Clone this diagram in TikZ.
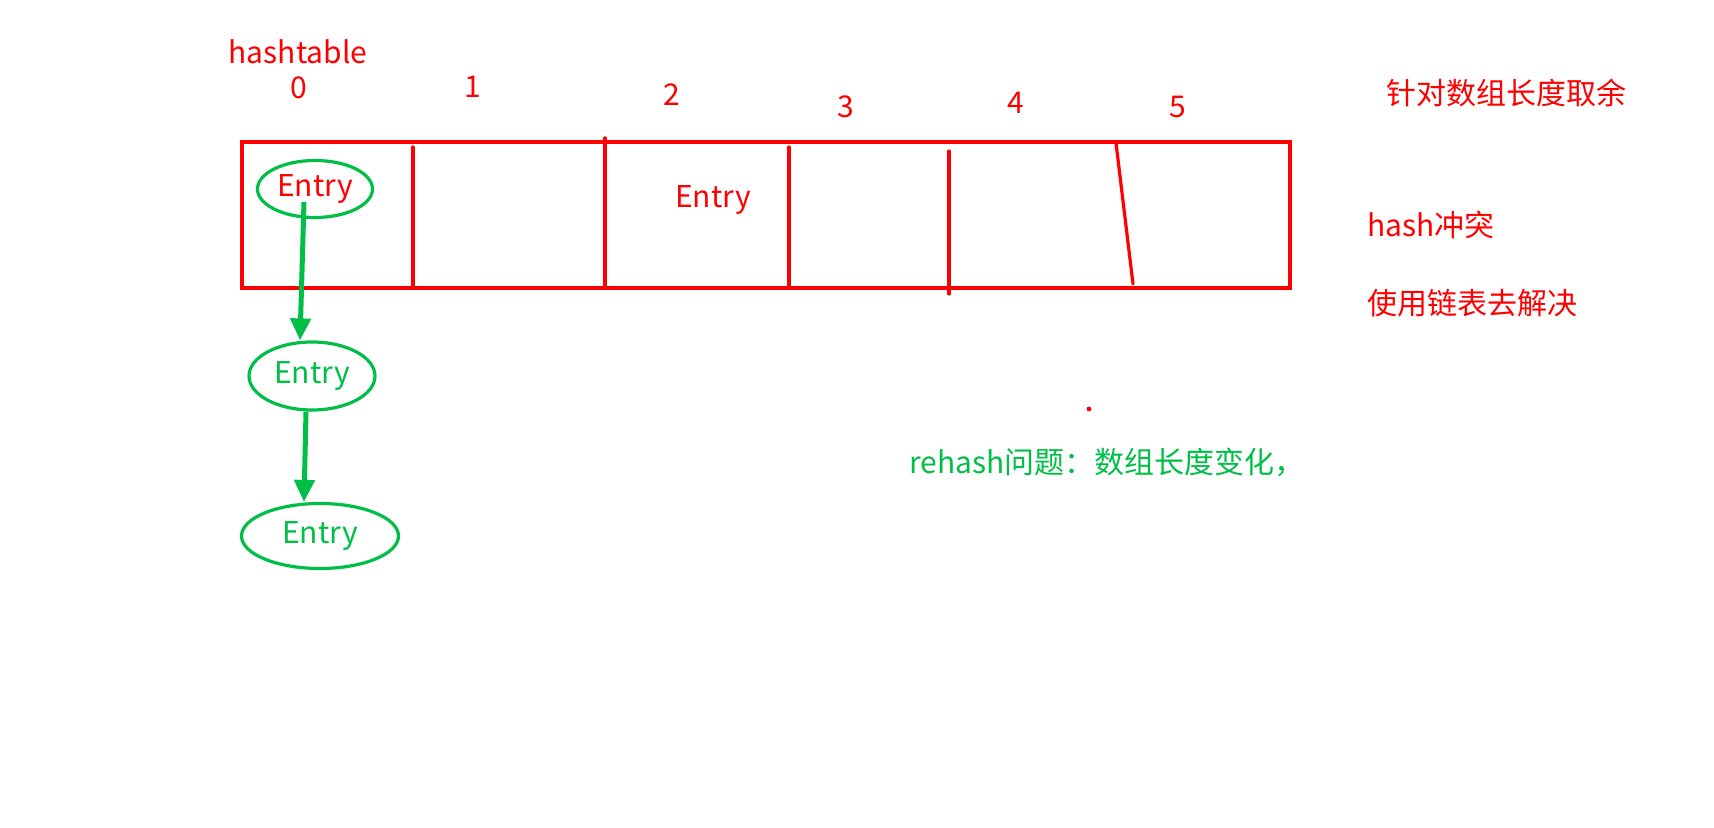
\documentclass[tikz,border=0pt]{standalone}
\usepackage{fontspec}
\setmainfont{Noto Sans CJK SC}
\usetikzlibrary{arrows.meta, shapes.geometric}
\definecolor{entrygreen}{RGB}{0,190,70}

\begin{document}
\begin{tikzpicture}[
    x=0.5pt, y=-0.5pt,
    txt/.style={text=red, font=\fontsize{15pt}{17pt}\selectfont},
    remark/.style={txt, anchor=west, inner sep=0pt},
    bucket/.style={draw=red, line width=2pt, minimum width=524.25pt, minimum height=73.25pt, inner sep=0pt},
    divider/.style={red, line width=1.6pt, line cap=round},
    entry/.style={ellipse, draw=entrygreen, line width=1.6pt, inner sep=0pt, text=entrygreen, font=\fontsize{15pt}{17pt}\selectfont},
    link/.style={-{Triangle[length=11pt, width=10pt]}, entrygreen, line width=2.5pt}
]
    \useasboundingbox (0,0) rectangle (1714,828);

    % Table
    \node[txt] (title) at (298,52) {hashtable};
    \node[bucket] (table) at (765.75,215.25) {};

    % Slot dividers
    \draw[divider] (413,147) -- (413,288);
    \draw[divider] (605,138) -- (605,288);
    \draw[divider] (789,147) -- (789,288);
    \draw[divider] (949,151) -- (949,294);
    \draw[divider] (1116,143) -- (1133,284);

    % Slot indices
    \node[txt] (idx0) at (299,88) {0};
    \node[txt] (idx1) at (473,87) {1};
    \node[txt] (idx2) at (672,95) {2};
    \node[txt] (idx3) at (846,107) {3};
    \node[txt] (idx4) at (1016,103) {4};
    \node[txt] (idx5) at (1178,107) {5};

    % Entries
    \node[entry, text=red, minimum width=57.5pt, minimum height=28.5pt] (entry0) at (315,189) {Entry};
    \node[txt] (slot2) at (713,200) {Entry};
    \node[entry, minimum width=63pt, minimum height=34pt] (entry1) at (312,376) {Entry};
    \node[entry, minimum width=78.5pt, minimum height=32.5pt] (entry2) at (320,536) {Entry};

    % Chain
    \draw[link] ([xshift=-5.5pt, yshift=-6.5pt]entry0.center) -- ([xshift=-6pt]entry1.north);
    \draw[link] ([xshift=-3pt]entry1.south) -- ([xshift=-8pt]entry2.north);

    % Notes
    \node[remark] (mod) at (1386,93) {针对数组长度取余};
    \node[remark] (clash) at (1367,225) {hash冲突};
    \node[remark] (chain) at (1367,303) {使用链表去解决};
    \node[remark, text=entrygreen] (rehash) at (909,462) {rehash问题：数组长度变化，};
    \fill[red] (1089,409) circle (1.2pt);

\end{tikzpicture}
\end{document}
